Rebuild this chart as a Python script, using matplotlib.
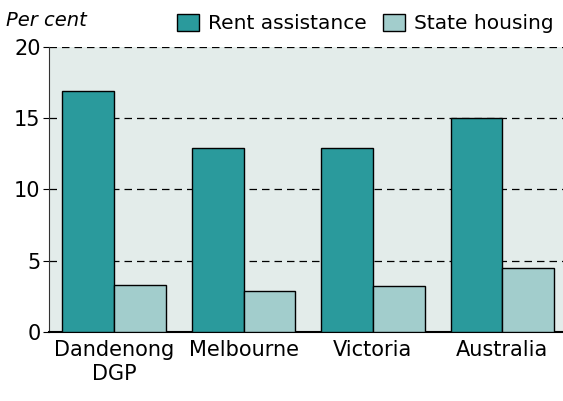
import numpy as np
import matplotlib.pyplot as plt
from matplotlib.patches import Patch

categories = ["Dandenong\nDGP", "Melbourne", "Victoria", "Australia"]
rent_assistance = [16.9, 12.9, 12.9, 15.0]
state_housing = [3.3, 2.9, 3.2, 4.5]

teal = "#2a9a9c"
light = "#a2cdcc"
bg = "#e3ecea"

plt.rcParams['font.family'] = ['DejaVu Sans']

fig = plt.figure(figsize=(5.63, 4.01), dpi=100)
ax = fig.add_axes([0.087, 0.172, 0.92, 0.711])
ax.set_facecolor(bg)

x = np.arange(len(categories))
w = 0.4
ax.bar(x - w/2, rent_assistance, w, color=teal, edgecolor='black', linewidth=1.0, zorder=3)
ax.bar(x + w/2, state_housing, w, color=light, edgecolor='black', linewidth=1.0, zorder=3)

for yv in [5, 10, 15, 20]:
    ax.axhline(yv, color='black', ls=(0, (6, 4)), lw=0.9, zorder=2)

ax.set_xlim(-0.504, 3.5)
ax.set_ylim(0, 20)
ax.set_yticks([0, 5, 10, 15, 20])
ax.set_xticks(x)
ax.set_xticklabels(categories)
ax.tick_params(axis='x', length=0, labelsize=15, pad=6)
ax.tick_params(axis='y', length=4, labelsize=15, pad=2)

for s in ['top', 'right']:
    ax.spines[s].set_visible(False)
ax.spines['bottom'].set_linewidth(1.5)
ax.spines['left'].set_color('#333333')
ax.spines['left'].set_linewidth(0.8)

fig.text(0.01, 0.925, "Per cent", fontsize=14, style='italic', ha='left', va='bottom')

handles = [Patch(facecolor=teal, edgecolor='black', label='Rent assistance'),
           Patch(facecolor=light, edgecolor='black', label='State housing')]
fig.legend(handles=handles, loc='upper right', bbox_to_anchor=(1.005, 0.995), ncol=2,
           frameon=False, fontsize=14.5, handlelength=1.1, handleheight=0.9,
           handletextpad=0.45, columnspacing=0.8, borderaxespad=0.2)

fig.savefig("out.png", dpi=100)
